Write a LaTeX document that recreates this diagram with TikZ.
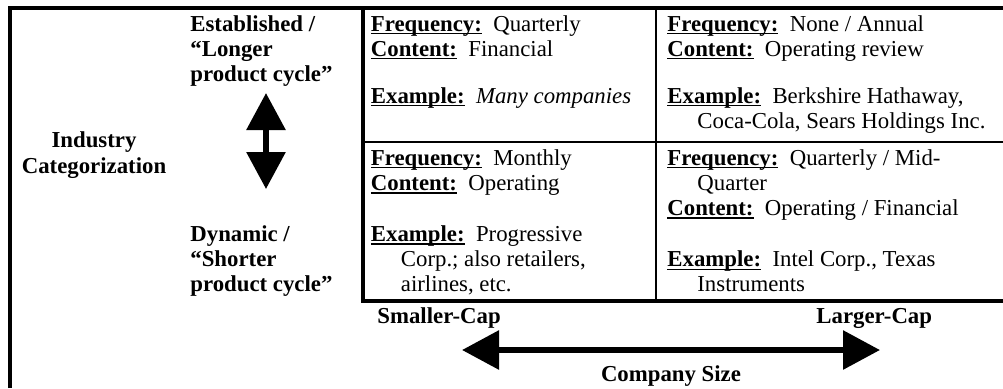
\documentclass[tikz,border=0pt]{standalone}
\usepackage{fontspec}
\setmainfont{Liberation Serif}
\usepackage{tikz}
\usetikzlibrary{arrows.meta}
\tikzstyle{every node}=[inner sep=0pt,font=\fontsize{11.4}{12.6}\selectfont]
\tikzstyle{cell}=[anchor=base west,align=left]
\tikzstyle{axis}=[anchor=base west,align=left,font=\fontsize{11.4}{12.6}\selectfont\bfseries]
\tikzstyle{frame}=[line width=2pt]
\tikzstyle{gridline}=[line width=1.1pt]
\tikzstyle{bigarrow}=[line width=3pt,{Triangle[length=18.5pt,width=19pt]}-{Triangle[length=18.5pt,width=19pt]}]
\newsavebox\ulbox
\newcommand\ulbf[1]{\sbox\ulbox{\bfseries #1}\rlap{\rule[-1.6pt]{\wd\ulbox}{0.7pt}}\usebox\ulbox}

\begin{document}
\begin{tikzpicture}[x=0.5pt,y=-0.5pt]
  \useasboundingbox (0,0) rectangle (1003,388);
  % frame and grid
  \coordinate (fbl) at (10,388);
  \coordinate (ftl) at (10,8);
  \coordinate (ftr) at (1003,8);
  \coordinate (gtl) at (363,8);
  \coordinate (gbl) at (363,301);
  \coordinate (gbr) at (1003,301);
  \coordinate (gmt) at (656,8);
  \coordinate (gmb) at (656,301);
  \coordinate (gml) at (363,142);
  \coordinate (gmr) at (1003,142);
  \draw[frame] (fbl) -- (ftl) -- (ftr);
  \draw[frame] (gtl) -- (gbl) -- (gbr);
  \draw[gridline] (gmt) -- (gmb);
  \draw[gridline] (gml) -- (gmr);
  % left side (base = last line)
  \node[axis,align=center,anchor=base] (industry) at (94,173)
    {Industry\\Categorization};
  \node[axis] (established) at (190,81.4)
    {Established /\\``Longer\\product cycle''};
  \node[axis] (dynamic) at (190,291.4)
    {Dynamic /\\``Shorter\\product cycle''};
  \coordinate (uptip) at (266,93);
  \coordinate (downtip) at (266,189);
  \draw[bigarrow] (uptip) -- (downtip);
  % cells
  \node[cell] (estsmall) at (370.5,103)
    {\ulbf{Frequency:}\ \ Quarterly\\
     \ulbf{Content:}\ \ Financial\\[10.8pt]
     \ulbf{Example:}\ \ \textit{Many companies}};
  \node[cell] (estlarge) at (667,128.2)
    {\ulbf{Frequency:}\ \ None / Annual\\
     \ulbf{Content:}\ \ Operating review\\[10.8pt]
     \ulbf{Example:}\ \ Berkshire Hathaway,\\
     \hspace*{15pt}Coca-Cola, Sears Holdings Inc.};
  \node[cell] (dynsmall) at (370.5,291.9)
    {\ulbf{Frequency:}\ \ Monthly\\
     \ulbf{Content:}\ \ Operating\\[13pt]
     \ulbf{Example:}\ \ Progressive\\
     \hspace*{15pt}Corp.; also retailers,\\
     \hspace*{15pt}airlines, etc.};
  \node[cell] (dynlarge) at (667,291.9)
    {\ulbf{Frequency:}\ \ Quarterly / Mid-\\
     \hspace*{15pt}Quarter\\
     \ulbf{Content:}\ \ Operating / Financial\\[13pt]
     \ulbf{Example:}\ \ Intel Corp., Texas\\
     \hspace*{15pt}Instruments};
  % company size axis
  \node[axis] (smallcap) at (377,323) {Smaller-Cap};
  \node[axis] (largecap) at (816,323) {Larger-Cap};
  \coordinate (lefttip) at (462,350);
  \coordinate (righttip) at (880,350);
  \draw[bigarrow] (lefttip) -- (righttip);
  \node[axis,anchor=base] (size) at (671,381) {Company Size};
\end{tikzpicture}
\end{document}
